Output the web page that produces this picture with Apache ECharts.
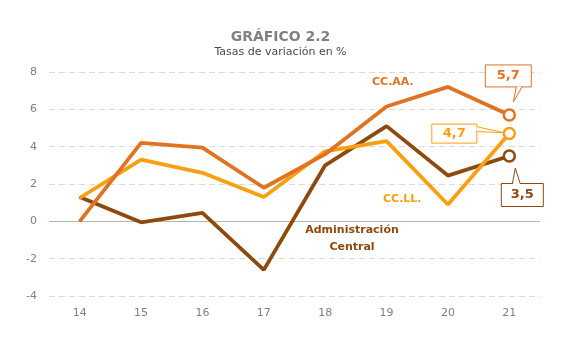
<!DOCTYPE html>
<html><head><meta charset="utf-8">
<script src="https://cdn.jsdelivr.net/npm/echarts@6/dist/echarts.min.js"></script>
<style>html,body{margin:0;padding:0;background:#fff}#c{width:561px;height:349px}</style>
</head><body><div id="c"></div>
<script>
const categories = ['14','15','16','17','18','19','20','21'];
const ccaa = [0.0, 4.2, 3.95, 1.8, 3.6, 6.15, 7.2, 5.7];
const ccll = [1.25, 3.3, 2.6, 1.3, 3.75, 4.3, 0.9, 4.7];
const admin = [1.3, -0.05, 0.45, -2.6, 3.0, 5.1, 2.45, 3.5];
const yTicks = [-4, -2, 0, 2, 4, 6, 8];
const colAA = '#E07322', colLL = '#F8A012', colAdm = '#8E4A0E';
const font = 'DejaVu Sans';

function lastStyled(arr, col) {
  return arr.map((v, i) => i === arr.length - 1
    ? {value: v, symbol: 'circle', symbolSize: 11, itemStyle: {color: '#fff', borderColor: col, borderWidth: 2.5}}
    : {value: v, symbol: 'none'});
}
function mkSeries(name, arr, col, extra) {
  return Object.assign({
    name, type: 'line', data: lastStyled(arr, col), showSymbol: true,
    lineStyle: {color: col, width: 3.8}, itemStyle: {color: col},
    emphasis: {disabled: true}, animation: false, z: 3
  }, extra || {});
}
const chart = echarts.init(document.getElementById('c'), null, {renderer: 'canvas'});
chart.setOption({
  animation: false,
  title: {
    text: 'GRÁFICO 2.2', subtext: 'Tasas de variación en %',
    left: 'center', top: 25, itemGap: 3,
    textStyle: {fontFamily: font, fontSize: 14, fontWeight: 'bold', color: '#808080'},
    subtextStyle: {fontFamily: font, fontSize: 11, color: '#4a4a4a'}
  },
  grid: {left: 49, right: 21, top: 72, bottom: 53},
  xAxis: {
    type: 'category', data: categories, boundaryGap: true,
    axisLine: {show: false}, axisTick: {show: false},
    axisLabel: {color: '#7f7f7f', fontFamily: font, fontSize: 11, margin: 12},
    splitLine: {show: false}
  },
  yAxis: {
    type: 'value', min: -4, max: 8, interval: 2,
    axisLine: {show: false}, axisTick: {show: false},
    axisLabel: {color: '#7f7f7f', fontFamily: font, fontSize: 11, margin: 12},
    splitLine: {lineStyle: {color: '#DCD8D2', type: [6, 4], width: 1}}
  },
  series: [
    mkSeries('Administración Central', admin, colAdm, {
      markLine: {silent: true, symbol: 'none', label: {show: false},
        lineStyle: {color: '#BFB3A3', type: 'solid', width: 1},
        data: [{yAxis: 0}], z: 1}
    }),
    mkSeries('CC.LL.', ccll, colLL),
    mkSeries('CC.AA.', ccaa, colAA)
  ],
  graphic: [
    {type: 'text', x: 372, y: 77, style: {text: 'CC.AA.', fill: colAA, font: 'bold 11px ' + font}},
    {type: 'text', x: 383, y: 194, style: {text: 'CC.LL.', fill: colLL, font: 'bold 11px ' + font}},
    {type: 'text', x: 352, y: 225, style: {text: 'Administración', fill: colAdm, font: 'bold 11px ' + font, align: 'center'}},
    {type: 'text', x: 352, y: 242, style: {text: 'Central', fill: colAdm, font: 'bold 11px ' + font, align: 'center'}}
  ]
});

// callouts built from the converted pixel position of the last data point
const last = categories.length - 1;
function px(v) { return chart.convertToPixel({xAxisIndex: 0, yAxisIndex: 0}, [categories[last], v]); }
const pAA = px(ccaa[last]), pLL = px(ccll[last]), pAd = px(admin[last]);
const fmt = v => v.toFixed(1).replace('.', ',');
const g = [];
function box(cx, cy, w, h, col, txt) {
  g.push({type: 'rect', z: 10, shape: {x: cx - w / 2, y: cy - h / 2, width: w, height: h},
    style: {fill: '#fff', stroke: col, lineWidth: 1}});
  g.push({type: 'text', z: 12, x: cx, y: cy, style: {text: txt, fill: col, font: 'bold 13px ' + font, align: 'center', verticalAlign: 'middle'}});
}
function pointer(pts, col) {
  g.push({type: 'polygon', z: 11, shape: {points: pts}, style: {fill: '#fff', stroke: null}});
  g.push({type: 'polyline', z: 11, shape: {points: pts}, style: {fill: null, stroke: col, lineWidth: 1}});
}
// 5,7
{
  const cx = pAA[0] - 1, cy = pAA[1] - 39, w = 46, h = 22;
  box(cx, cy, w, h, colAA, fmt(ccaa[last]));
  const by = cy + h / 2;
  pointer([[cx + 8, by - 0.5], [pAA[0] + 4, pAA[1] - 13], [cx + 14, by - 0.5]], colAA);
}
// 4,7
{
  const cx = pLL[0] - 55, cy = pLL[1], w = 45, h = 19;
  box(cx, cy, w, h, colLL, fmt(ccll[last]));
  const bx = cx + w / 2;
  pointer([[bx - 0.5, cy - 7], [pLL[0] - 6, pLL[1] - 1], [bx - 0.5, cy - 2]], colLL);
}
// 3,5
{
  const cx = pAd[0] + 13, cy = pAd[1] + 39, w = 42, h = 23;
  box(cx, cy, w, h, colAdm, fmt(admin[last]));
  const by = cy - h / 2;
  pointer([[cx - 10, by + 0.5], [pAd[0] + 6, pAd[1] + 12], [cx - 2, by + 0.5]], colAdm);
}
chart.setOption({graphic: chart.getOption().graphic[0].elements.concat(g)});
</script></body></html>
